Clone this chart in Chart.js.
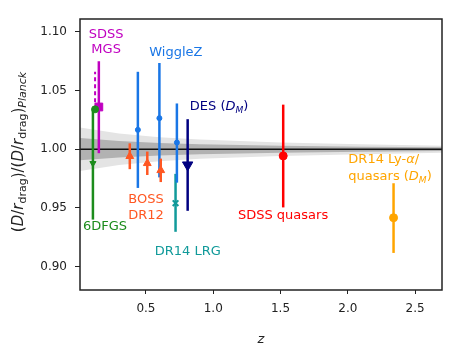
<!DOCTYPE html>
<html>
<head>
<meta charset="utf-8">
<script src="https://cdn.jsdelivr.net/npm/chart.js@4.4.1/dist/chart.umd.min.js"></script>
<style>
  html, body { margin: 0; padding: 0; background: #fff; }
  canvas { display: block; }
</style>
</head>
<body>
<canvas id="baoChart" width="463" height="354"></canvas>
<script>
// axis ranges and ticks
const xRange = [0.01, 2.7];
const yRange = [0.88, 1.111];
const xTicks = [0.5, 1.0, 1.5, 2.0, 2.5];
const yTicks = [0.90, 0.95, 1.00, 1.05, 1.10];

// Planck band (half widths of 1 and 2 sigma)
const bandZ = [0.01, 0.3, 0.6, 0.9, 1.5, 2.1, 2.7];
const bandInner = [0.0095, 0.007, 0.0053, 0.0043, 0.003, 0.0022, 0.0016];
const bandOuter = [0.0185, 0.0135, 0.0102, 0.0082, 0.0058, 0.0042, 0.003];

// surveys: redshift, value, lower and upper error
const sixdfZ = [0.106], sixdfVal = [0.988], sixdfLo = [0.940], sixdfHi = [1.034];
const sixdfTopZ = [0.122], sixdfTopVal = [1.034];
const mgsZ = [0.15], mgsVal = [1.036], mgsLo = [0.9966], mgsHi = [1.075];
const mgsDashZ = [0.122], mgsDashLo = [1.040], mgsDashHi = [1.066];
const bossZ = [0.38, 0.51, 0.61];
const bossVal = [0.994, 0.988, 0.982];
const bossLo = [0.983, 0.978, 0.972];
const bossHi = [1.005, 0.998, 0.992];
const wigZ = [0.44, 0.60, 0.73];
const wigVal = [1.0165, 1.0265, 1.0057];
const wigLo = [0.967, 0.976, 0.9715];
const wigHi = [1.066, 1.0735, 1.039];
const lrgZ = [0.72], lrgVal = [0.954], lrgLo = [0.9296], lrgHi = [0.979];
const desZ = [0.81], desVal = [0.9866], desLo = [0.9475], desHi = [1.0256];
const qsoZ = [1.52], qsoVal = [0.9943], qsoLo = [0.9504], qsoHi = [1.038];
const lyaZ = [2.34], lyaVal = [0.9416], lyaLo = [0.9116], lyaHi = [0.971];

const C = {
    sixdf: '#1c8c1c', mgs: '#c000c0', boss: '#ff5722', wig: '#1976e6',
    lrg: '#119a9a', des: '#000080', qso: '#ff0000', lya: '#ffa500'
};
const FONT = 'DejaVu Sans';

const pts = (xs, ys) => xs.map((x, i) => ({ x: x, y: ys[i] }));

const errBars = (zs, lo, hi, color, width, dash) => zs.map((z, i) => ({
    data: [{ x: z, y: lo[i] }, { x: z, y: hi[i] }],
    borderColor: color, borderWidth: width, borderDash: dash || [],
    pointRadius: 0, showLine: true, fill: false, order: 5
}));

const markers = (zs, vals, color, style, radius, rot) => ({
    data: pts(zs, vals),
    showLine: false, pointStyle: style, pointRadius: radius, pointRotation: rot || 0,
    backgroundColor: color, borderColor: color, borderWidth: style === 'crossRot' ? 2 : 1,
    order: 0
});

const datasets = [
    // band
    { data: pts(bandZ, bandZ.map((z, i) => 1 + bandOuter[i])), borderWidth: 0, pointRadius: 0, fill: false, order: 12 },
    { data: pts(bandZ, bandZ.map((z, i) => 1 - bandOuter[i])), borderWidth: 0, pointRadius: 0, fill: '-1', backgroundColor: '#e4e4e4', order: 12 },
    { data: pts(bandZ, bandZ.map((z, i) => 1 + bandInner[i])), borderWidth: 0, pointRadius: 0, fill: false, order: 11 },
    { data: pts(bandZ, bandZ.map((z, i) => 1 - bandInner[i])), borderWidth: 0, pointRadius: 0, fill: '-1', backgroundColor: '#b2b2b2', order: 11 },
    // reference line
    { data: pts(xRange, [1, 1]), borderColor: '#111', borderWidth: 1.5, pointRadius: 0, fill: false, order: 10 },
    ...errBars(sixdfZ, sixdfLo, sixdfHi, C.sixdf, 2.5),
    ...errBars(mgsZ, mgsLo, mgsHi, C.mgs, 2.5),
    ...errBars(mgsDashZ, mgsDashLo, mgsDashHi, C.mgs, 2, [4, 3]),
    ...errBars(bossZ, bossLo, bossHi, C.boss, 2.5),
    ...errBars(wigZ, wigLo, wigHi, C.wig, 2.5),
    ...errBars(lrgZ, lrgLo, lrgHi, C.lrg, 2.5),
    ...errBars(desZ, desLo, desHi, C.des, 2.5),
    ...errBars(qsoZ, qsoLo, qsoHi, C.qso, 2.5),
    ...errBars(lyaZ, lyaLo, lyaHi, C.lya, 2.5),
    markers(sixdfZ, sixdfVal, C.sixdf, 'triangle', 3.5, 180),
    markers(sixdfTopZ, sixdfTopVal, C.sixdf, 'circle', 3.5),
    markers(mgsZ, mgsVal, C.mgs, 'rect', 5.5),
    markers(bossZ, bossVal, C.boss, 'triangle', 4.5),
    markers(wigZ, wigVal, C.wig, 'circle', 2.5),
    markers(lrgZ, lrgVal, C.lrg, 'crossRot', 4),
    markers(desZ, desVal, C.des, 'triangle', 6, 180),
    markers(qsoZ, qsoVal, C.qso, 'circle', 4),
    markers(lyaZ, lyaVal, C.lya, 'circle', 4)
];

// text annotations, anchored in data coordinates
const notes = [
    { segs: [{ t: 'SDSS' }], z: 0.204, v: 1.0977, color: C.mgs, align: 'center' },
    { segs: [{ t: 'MGS' }], z: 0.204, v: 1.0849, color: C.mgs, align: 'center' },
    { segs: [{ t: 'WiggleZ' }], z: 0.722, v: 1.0827, color: C.wig, align: 'center' },
    { segs: [{ t: 'DES (' }, { t: 'D', it: true }, { t: 'M', it: true, sub: true }, { t: ')' }], z: 0.826, v: 1.0364, color: C.des, align: 'left' },
    { segs: [{ t: 'BOSS' }], z: 0.5, v: 0.9567, color: C.boss, align: 'center' },
    { segs: [{ t: 'DR12' }], z: 0.5, v: 0.9438, color: C.boss, align: 'center' },
    { segs: [{ t: '6DFGS' }], z: 0.196, v: 0.9339, color: C.sixdf, align: 'center' },
    { segs: [{ t: 'DR14 LRG' }], z: 0.811, v: 0.913, color: C.lrg, align: 'center' },
    { segs: [{ t: 'SDSS quasars' }], z: 1.519, v: 0.943, color: C.qso, align: 'center' },
    { segs: [{ t: 'DR14 Ly-' }, { t: 'α', it: true }, { t: '/' }], z: 2.004, v: 0.9909, color: C.lya, align: 'left' },
    { segs: [{ t: 'quasars (' }, { t: 'D', it: true }, { t: 'M', it: true, sub: true }, { t: ')' }], z: 2.004, v: 0.9766, color: C.lya, align: 'left' }
];

const yTitle = [
    { t: '(' }, { t: 'D', it: true }, { t: '/' }, { t: 'r', it: true }, { t: 'drag', sub: true },
    { t: ')/(' }, { t: 'D', it: true }, { t: '/' }, { t: 'r', it: true }, { t: 'drag', sub: true },
    { t: ')' }, { t: 'Planck', it: true, sub: true }
];

function segFont(s, size) {
    return (s.it ? 'italic ' : '') + (s.sub ? Math.round(size * 0.7) : size) + 'px "' + FONT + '"';
}

function drawRich(ctx, segs, x, y, size, color, align) {
    let w = 0;
    segs.forEach(s => { ctx.font = segFont(s, size); w += ctx.measureText(s.t).width; });
    let cx = align === 'center' ? x - w / 2 : x;
    ctx.fillStyle = color;
    ctx.textAlign = 'left';
    ctx.textBaseline = 'middle';
    segs.forEach(s => {
        ctx.font = segFont(s, size);
        ctx.fillText(s.t, cx, y + (s.sub ? size * 0.3 : 0));
        cx += ctx.measureText(s.t).width;
    });
}

const decorPlugin = {
    id: 'decor',
    afterDraw(chart) {
        const ctx = chart.ctx;
        const a = chart.chartArea;
        const xs = chart.scales.x, ys = chart.scales.y;
        ctx.save();
        notes.forEach(n => drawRich(ctx, n.segs, xs.getPixelForValue(n.z), ys.getPixelForValue(n.v), 13, n.color, n.align));
        // frame
        ctx.strokeStyle = '#222';
        ctx.lineWidth = 1.5;
        ctx.strokeRect(a.left, a.top, a.right - a.left, a.bottom - a.top);
        // axis titles
        ctx.font = 'italic 13px "' + FONT + '"';
        ctx.fillStyle = '#222';
        ctx.textAlign = 'center';
        ctx.textBaseline = 'middle';
        ctx.fillText('z', (a.left + a.right) / 2, 340);
        ctx.translate(19, 152);
        ctx.rotate(-Math.PI / 2);
        drawRich(ctx, yTitle, 0, 0, 15, '#222', 'center');
        ctx.restore();
    }
};

new Chart(document.getElementById('baoChart'), {
    type: 'line',
    data: { datasets: datasets },
    options: {
        responsive: false,
        animation: false,
        layout: { padding: { top: 19, right: 21, left: 0, bottom: 0 } },
        plugins: { legend: { display: false }, tooltip: { enabled: false } },
        scales: {
            x: {
                type: 'linear', min: xRange[0], max: xRange[1],
                afterBuildTicks: s => { s.ticks = xTicks.map(v => ({ value: v })); },
                afterFit: s => { s.height = 64; },
                border: { display: false },
                grid: { drawOnChartArea: false, drawTicks: true, tickLength: 4, color: '#222', lineWidth: 1 },
                ticks: { color: '#222', padding: 8, maxRotation: 0, font: { family: FONT, size: 12 }, callback: v => v.toFixed(1) }
            },
            y: {
                type: 'linear', min: yRange[0], max: yRange[1],
                afterBuildTicks: s => { s.ticks = yTicks.map(v => ({ value: v })); },
                afterFit: s => { s.width = 80; },
                border: { display: false },
                grid: { drawOnChartArea: false, drawTicks: true, tickLength: 5, color: '#222', lineWidth: 1 },
                ticks: { color: '#222', padding: 8, font: { family: FONT, size: 12 }, callback: v => v.toFixed(2) }
            }
        }
    },
    plugins: [decorPlugin]
});
</script>
</body>
</html>
